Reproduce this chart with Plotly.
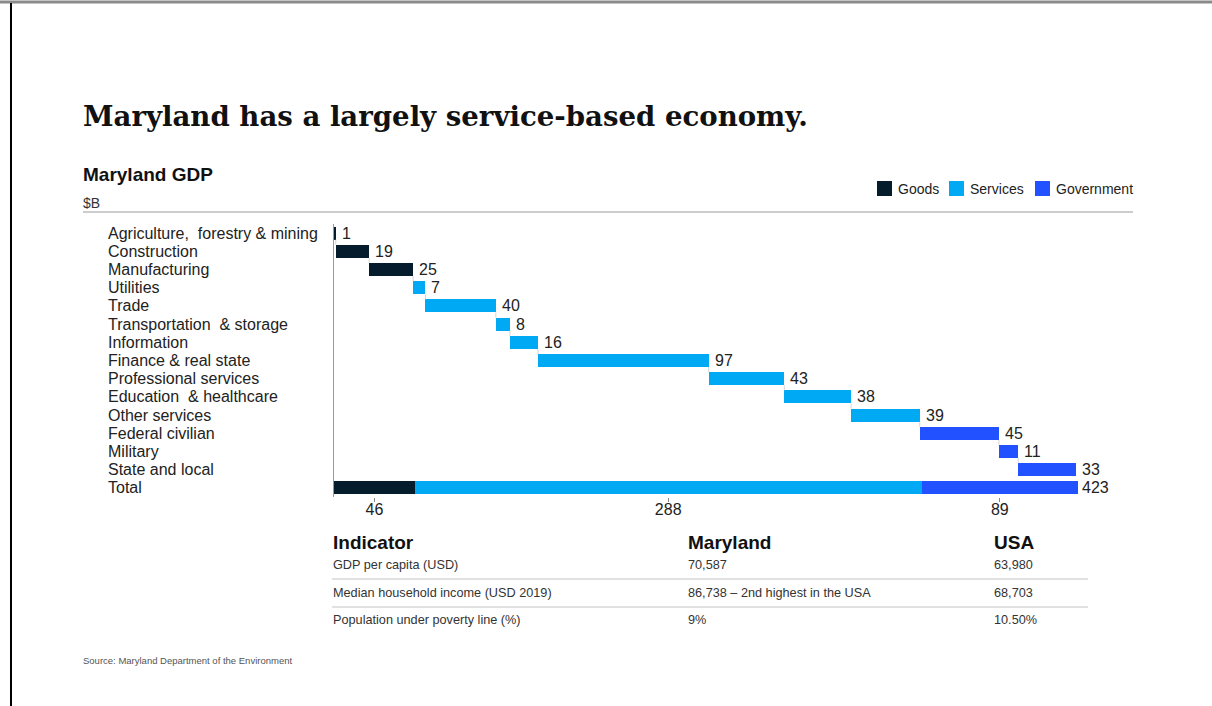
import plotly.graph_objects as go

# ---- data ----
categories = [
    "Agriculture,\u00a0 forestry & mining", "Construction", "Manufacturing",
    "Utilities", "Trade", "Transportation\u00a0 & storage", "Information",
    "Finance & real state", "Professional services", "Education\u00a0 & healthcare",
    "Other services", "Federal civilian", "Military", "State and local",
]
values = [1, 19, 25, 7, 40, 8, 16, 97, 43, 38, 39, 45, 11, 33]
groups = ["Goods"] * 3 + ["Services"] * 8 + ["Government"] * 3
group_names = ["Goods", "Services", "Government"]
group_totals = [46, 288, 89]
total_label = "Total"

indicators = ["GDP per capita (USD)", "Median household income (USD 2019)",
              "Population under poverty line (%)"]
maryland_vals = ["70,587", "86,738 \u2013 2nd highest in the USA", "9%"]
usa_vals = ["63,980", "68,703", "10.50%"]

# ---- styling ----
W, H = 1212, 706
colors = {"Goods": "#051C2C", "Services": "#00A9F4", "Government": "#2251FF"}
SANS = "Liberation Sans, Arial, sans-serif"
SERIF = "DejaVu Serif, Georgia, serif"
TXT = "#222222"


def px(x):
    return x / W


def py(y):
    return 1 - y / H


# waterfall bases
bases = []
run = 0
for v in values:
    bases.append(run)
    run += v
ends = [b + v for b, v in zip(bases, values)]

total_idx = len(categories)
group_bases = [sum(group_totals[:i]) for i in range(len(group_totals))]

fig = go.Figure()
BAR_W = 0.72
for gi, g in enumerate(group_names):
    idx = [i for i, gg in enumerate(groups) if gg == g]
    ys = idx + [total_idx]
    xs = [values[i] for i in idx] + [group_totals[gi]]
    bs = [bases[i] for i in idx] + [group_bases[gi]]
    fig.add_trace(go.Bar(
        y=ys, x=xs, base=bs, orientation="h", name=g,
        marker=dict(color=colors[g], line=dict(width=0)),
        width=BAR_W, showlegend=False, hoverinfo="skip",
    ))

# thin connectors between consecutive bars
cx, cy = [], []
for i in range(len(values) - 1):
    cx += [ends[i], ends[i], None]
    cy += [i + BAR_W / 2, i + 1 - BAR_W / 2, None]
fig.add_trace(go.Scatter(x=cx, y=cy, mode="lines", showlegend=False,
                         line=dict(color="#d4d4d4", width=1), hoverinfo="skip"))

annotations = []
shapes = []
LBL = dict(family=SANS, size=16, color=TXT)
# value labels
for i, (e, v) in enumerate(zip(ends, values)):
    annotations.append(dict(x=e, y=i, xref="x", yref="y", text=str(v),
                            showarrow=False, xanchor="left", xshift=4, font=LBL))
annotations.append(dict(x=sum(group_totals), y=total_idx, xref="x", yref="y",
                        text=str(sum(group_totals)), showarrow=False,
                        xanchor="left", xshift=2, font=LBL))
# row labels
for i, c in enumerate(categories + [total_label]):
    annotations.append(dict(x=px(106), y=i, xref="paper", yref="y", text=c,
                            showarrow=False, xanchor="left", font=LBL))

# legend (square swatch + label)
legend_items = [(877, 897), (949, 969), (1035, 1055)]
for g, (sx, tx) in zip(group_names, legend_items):
    shapes.append(dict(type="rect", xref="paper", yref="paper",
                       x0=px(sx), x1=px(sx + 15), y0=py(196), y1=py(181),
                       fillcolor=colors[g], line=dict(width=0)))
    annotations.append(dict(x=px(tx - 1), y=py(188.5), xref="paper", yref="paper",
                            text=g, showarrow=False, xanchor="left", yanchor="middle",
                            font=dict(family=SANS, size=14, color="#222222")))

# titles
annotations += [
    dict(x=px(81), y=py(117), xref="paper", yref="paper",
         text="<b>Maryland has a largely service-based economy.</b>",
         showarrow=False, xanchor="left", yanchor="middle",
         font=dict(family=SERIF, size=27.6, color="#111111")),
    dict(x=px(81), y=py(174), xref="paper", yref="paper", text="<b>Maryland GDP</b>",
         showarrow=False, xanchor="left", yanchor="middle",
         font=dict(family=SANS, size=19, color="#111111")),
    dict(x=px(81), y=py(203), xref="paper", yref="paper", text="$B",
         showarrow=False, xanchor="left", yanchor="middle",
         font=dict(family=SANS, size=14, color="#333333")),
    dict(x=px(81), y=py(660), xref="paper", yref="paper",
         text="Source: Maryland Department of the Environment",
         showarrow=False, xanchor="left", yanchor="middle",
         font=dict(family=SANS, size=9.5, color="#555555")),
]

# indicator table
col_x = [331, 686, 992]
headers = ["Indicator", "Maryland", "USA"]
for hx, h in zip(col_x, headers):
    annotations.append(dict(x=px(hx), y=py(542), xref="paper", yref="paper",
                            text=f"<b>{h}</b>", showarrow=False, xanchor="left",
                            yanchor="middle",
                            font=dict(family=SANS, size=19, color="#111111")))
row_y = [565, 593, 620]
for ry, a, b, c in zip(row_y, indicators, maryland_vals, usa_vals):
    for hx, t in zip(col_x, [a, b, c]):
        annotations.append(dict(x=px(hx), y=py(ry), xref="paper", yref="paper",
                                text=t, showarrow=False, xanchor="left",
                                yanchor="middle",
                                font=dict(family=SANS, size=12.7, color="#333333")))

shapes += [
    # page frame
    dict(type="line", xref="paper", yref="paper", x0=0, x1=1, y0=py(2), y1=py(2),
         line=dict(color="#8a8a8a", width=3)),
    dict(type="line", xref="paper", yref="paper", x0=px(11), x1=px(11), y0=py(3), y1=0,
         line=dict(color="#000000", width=2)),
    # rule under header
    dict(type="line", xref="paper", yref="paper", x0=px(83), x1=px(1133),
         y0=py(212), y1=py(212), line=dict(color="#9a9a9a", width=1)),
]
for ly in [579, 607]:
    shapes.append(dict(type="line", xref="paper", yref="paper", x0=px(332), x1=px(1088),
                       y0=py(ly), y1=py(ly), line=dict(color="#c4c4c4", width=1)))

# scale: 1 $B ~ 1.759 px
x_left, x_right = 334, 1133
scale = 1.759
x_max = (x_right - x_left) / scale
tick_centers = [gb + gt / 2 for gb, gt in zip(group_bases, group_totals)]

fig.update_layout(
    width=W, height=H, margin=dict(l=0, r=0, t=0, b=0),
    paper_bgcolor="white", plot_bgcolor="white",
    barmode="overlay", bargap=0,
    showlegend=False,
    xaxis=dict(domain=[px(x_left), px(x_right)], range=[0, x_max],
               showgrid=False, zeroline=False, showline=False,
               tickmode="array", tickvals=tick_centers,
               ticktext=[str(t) for t in group_totals],
               ticks="outside", ticklen=4, tickcolor="#888888",
               ticklabelstandoff=-6,
               tickfont=dict(family=SANS, size=16, color=TXT), fixedrange=True),
    yaxis=dict(domain=[py(497), py(224)], range=[total_idx + 0.5, -0.5],
               showgrid=False, zeroline=False, showline=True,
               linecolor="#9a9a9a", linewidth=1, showticklabels=False,
               ticks="", fixedrange=True),
    annotations=annotations, shapes=shapes,
)

fig.write_html("out.html")
